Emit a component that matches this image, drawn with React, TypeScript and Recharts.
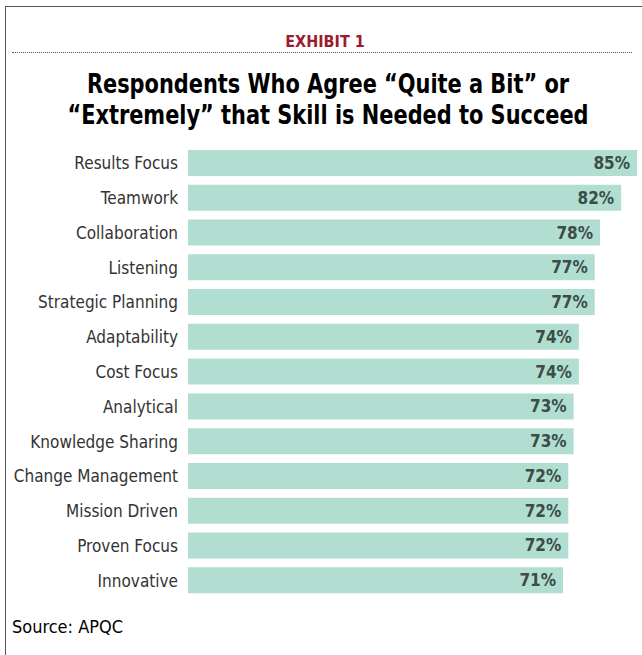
import { BarChart, Bar, XAxis, YAxis, LabelList } from 'recharts';

const skills = [
  'Results Focus',
  'Teamwork',
  'Collaboration',
  'Listening',
  'Strategic Planning',
  'Adaptability',
  'Cost Focus',
  'Analytical',
  'Knowledge Sharing',
  'Change Management',
  'Mission Driven',
  'Proven Focus',
  'Innovative',
];
const agreePct = [85, 82, 78, 77, 77, 74, 74, 73, 73, 72, 72, 72, 71];

const data = skills.map((name, i) => ({ name, value: agreePct[i] }));

const FONT = '"DejaVu Sans Condensed", "DejaVu Sans", sans-serif';

export default function App() {
  return (
    <div style={{ position: 'absolute', left: 0, top: 0, width: 642, height: 655, overflow: 'hidden', background: '#fff', fontFamily: FONT }}>
      {/* frame */}
      <div style={{ position: 'absolute', left: 5, top: 6, width: 660, height: 700, borderLeft: '1.5px solid #555', borderTop: '1.5px solid #555' }} />
      <div style={{ position: 'absolute', left: 0, width: 650, top: 32, textAlign: 'center', color: '#9b1c2e', fontWeight: 700, fontSize: 16 }}>
        EXHIBIT 1
      </div>
      <div style={{ position: 'absolute', left: 12, width: 620, top: 52, borderTop: '1px dotted #555' }} />
      <div style={{ position: 'absolute', left: 0, width: 656, top: 68, textAlign: 'center', color: '#000', fontWeight: 700, fontSize: 27, lineHeight: '31px', transform: 'scaleX(0.86)' }}>
        Respondents Who Agree “Quite a Bit” or
        <br />
        “Extremely” that Skill is Needed to Succeed
      </div>
      <div style={{ position: 'absolute', left: 12, top: 616, color: '#000', fontSize: 18 }}>
        Source: APQC
      </div>
      <div style={{ position: 'absolute', left: 0, top: 0 }}>
        <BarChart
          width={642}
          height={655}
          data={data}
          layout="vertical"
          margin={{ top: 146, right: 5, bottom: 57, left: 0 }}
        >
          <XAxis type="number" domain={[0, 85]} hide />
          <YAxis
            type="category"
            dataKey="name"
            width={188}
            axisLine={false}
            tickLine={false}
            tickSize={0}
            tickMargin={10}
            tick={{ fill: '#333', fontSize: 17, fontFamily: FONT }}
          />
          <Bar dataKey="value" fill="#b2ded2" barSize={26} isAnimationActive={false}>
            <LabelList
              dataKey="value"
              position="insideRight"
              offset={7}
              formatter={(v: any) => `${v}%`}
              style={{ fill: '#3a4d47', fontSize: 17, fontWeight: 700, fontFamily: FONT }}
            />
          </Bar>
        </BarChart>
      </div>
    </div>
  );
}
